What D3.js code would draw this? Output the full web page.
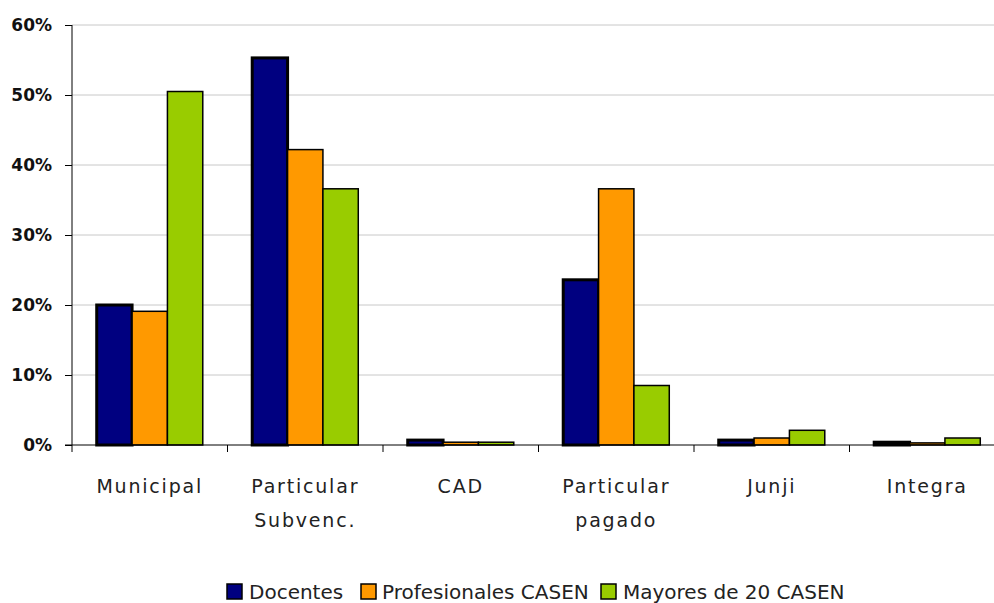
<!DOCTYPE html>
<html><head><meta charset="utf-8">
<script src="https://cdn.jsdelivr.net/npm/d3@7"></script>
<style>body{margin:0;background:#fff}svg{display:block}</style>
</head><body>
<svg id="c" width="994" height="603"></svg>
<script>
const categories = [["Municipal"], ["Particular", "Subvenc."], ["CAD"], ["Particular", "pagado"], ["Junji"], ["Integra"]];
const seriesNames = ["Docentes", "Profesionales CASEN", "Mayores de 20 CASEN"];
const docentes = [20.0, 55.3, 0.7, 23.6, 0.7, 0.4];
const profesionales = [19.1, 42.2, 0.4, 36.6, 1.0, 0.3];
const mayores = [50.5, 36.6, 0.4, 8.5, 2.1, 1.0];
const yTicks = [0, 10, 20, 30, 40, 50, 60];
const colors = ["#000080", "#FF9900", "#99CC00"];
const strokeW = [3, 1.5, 1.5];

(function () {
const svg = d3.select("#c");
const left = 72, plotTop = 25, bottom = 445, step = 155.5;
const catKeys = categories.map((d, i) => i);
const x = d3.scaleBand().domain(catKeys).range([left, left + step * 6]).paddingInner(0.318).paddingOuter(0.159);
const xs = d3.scaleBand().domain(seriesNames).range([0, x.bandwidth()]);
const y = d3.scaleLinear().domain([0, 60]).range([bottom, plotTop]);
const values = [docentes, profesionales, mayores];

// gridlines
svg.append("g").selectAll("line").data(yTicks.filter(t => t > 0)).join("line")
  .attr("x1", left).attr("x2", 994).attr("y1", d => y(d)).attr("y2", d => y(d))
  .attr("stroke", "#c8c8c8").attr("stroke-width", 1);

// bars
seriesNames.forEach((s, si) => {
  svg.append("g").selectAll("rect").data(values[si]).join("rect")
    .attr("x", (d, i) => x(i) + xs(s))
    .attr("y", d => y(d))
    .attr("width", xs.bandwidth())
    .attr("height", d => bottom - y(d))
    .attr("fill", colors[si])
    .attr("stroke", "#000").attr("stroke-width", strokeW[si]);
});

// y axis
const yAxis = d3.axisLeft(y).tickValues(yTicks).tickFormat(d => d + "%").tickSize(7).tickPadding(13);
const gy = svg.append("g").attr("transform", `translate(${left},0)`).call(yAxis);
gy.select(".domain").attr("d", `M0,${plotTop}V${bottom}`).attr("stroke", "#000");
gy.selectAll(".tick line").attr("stroke", "#000");
gy.selectAll("text").attr("font-family", "DejaVu Sans").attr("font-weight", "bold").attr("font-size", 17).attr("fill", "#111");

// x axis
const xb = d3.scaleLinear().domain([0, 6]).range([left, left + step * 6]);
const gx = svg.append("g");
gx.append("line").attr("x1", left - 7).attr("x2", 994).attr("y1", bottom).attr("y2", bottom).attr("stroke", "#000");
gx.selectAll("line.t").data(d3.range(0, 7)).join("line").attr("class", "t")
  .attr("x1", d => xb(d)).attr("x2", d => xb(d)).attr("y1", bottom).attr("y2", bottom + 7).attr("stroke", "#000");

const labels = svg.append("g").selectAll("text").data(categories).join("text")
  .attr("x", (d, i) => x(i) + x.bandwidth() / 2)
  .attr("y", 493)
  .attr("text-anchor", "middle")
  .attr("font-family", "DejaVu Sans").attr("font-size", 19).attr("letter-spacing", 1.8).attr("fill", "#222");
labels.each(function(d) {
  const t = d3.select(this);
  d.forEach((line, li) => t.append("tspan").attr("x", t.attr("x")).attr("dy", li === 0 ? 0 : 34).text(line));
});

// legend
const legendItems = [{x: 227, tx: 249}, {x: 361, tx: 382}, {x: 601, tx: 623}];
const lg = svg.append("g");
seriesNames.forEach((s, i) => {
  lg.append("rect").attr("x", legendItems[i].x).attr("y", 584).attr("width", 15).attr("height", 15)
    .attr("fill", colors[i]).attr("stroke", "#000").attr("stroke-width", 1.5);
  lg.append("text").attr("x", legendItems[i].tx).attr("y", 599)
    .attr("font-family", "DejaVu Sans").attr("font-size", 20).attr("fill", "#222").text(s);
});
})();
</script>
</body></html>
